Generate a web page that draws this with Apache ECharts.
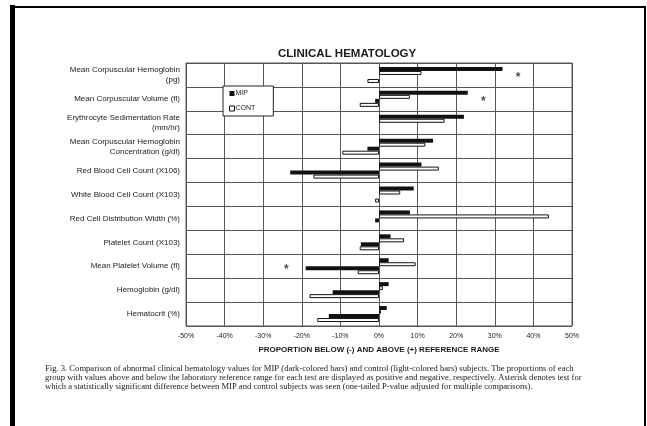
<!DOCTYPE html>
<html>
<head>
<meta charset="utf-8">
<script src="https://cdn.jsdelivr.net/npm/echarts@6/dist/echarts.min.js"></script>
<style>
  html, body { margin: 0; padding: 0; background: #fff; }
  #chart { width: 647px; height: 426px; }
</style>
</head>
<body>
<div id="chart"></div>
<script>
// Hematology tests, listed top to bottom
const categories = [
  'Mean Corpuscular Hemoglobin\n(pg)',
  'Mean Corpuscular Volume (fl)',
  'Erythrocyte Sedimentation Rate\n(mm/hr)',
  'Mean Corpuscular Hemoglobin\nConcentration (g/dl)',
  'Red Blood Cell Count (X106)',
  'White Blood Cell Count (X103)',
  'Red Cell Distribution Width (%)',
  'Platelet Count (X103)',
  'Mean Platelet Volume (fl)',
  'Hemoglobin (g/dl)',
  'Hematocrit (%)'
];

// Proportion (%) above (+) and below (-) the reference range
const mipAbove  = [32, 23, 22, 14, 11, 9, 8, 3, 2.5, 2.5, 2];
const contAbove = [11, 8, 17, 12, 15.5, 5.5, 44, 6.5, 9.5, 1, 0.5];
const mipBelow  = [0, -1, 0, -3, -23, 0, -1, -4.7, -19, -12, -13];
const contBelow = [-3, -5, 0, -9.5, -17, -1, 0, -5, -5.5, -18, -16];

// Tests with a significant MIP vs control difference (x position, category index)
const asteriskX   = [36, 27, -24];
const asteriskCat = [0, 1, 8];

const xTicks = { min: -50, max: 50, step: 10 };

const captionLines = [
  'Fig. 3. Comparison of abnormal clinical hematology values for MIP (dark-colored bars) and control (light-colored bars) subjects. The proportions of each',
  'group with values above and below the laboratory reference range for each test are displayed as positive and negative, respectively. Asterisk denotes test for',
  'which a statistically significant difference between MIP and control subjects was seen (one-tailed P-value adjusted for multiple comparisons).'
];

const ink = '#1a1a1a';
const gridColor = '#555';
const sans = 'Liberation Sans, Arial, sans-serif';
const serif = 'Liberation Serif, Times New Roman, serif';

const darkBar = { color: '#111' };
const lightBar = { color: '#fff', borderColor: '#111', borderWidth: 1 };

// a zero proportion means no bar at all for that test
const orEmpty = v => (v === 0 ? '-' : v);

function barSeries(name, data, style) {
  return {
    name: name,
    type: 'bar',
    data: data.map(orEmpty),
    barWidth: 4,
    barGap: '0%',
    itemStyle: style,
    emphasis: { disabled: true },
    animation: false
  };
}

const chart = echarts.init(document.getElementById('chart'), null, { renderer: 'canvas' });

chart.setOption({
  backgroundColor: '#fff',
  animation: false,
  title: {
    text: 'CLINICAL HEMATOLOGY',
    left: 273,
    top: 43,
    textStyle: { fontFamily: sans, fontSize: 11.5, fontWeight: 'bold', color: ink }
  },
  legend: {
    data: [
      { name: 'MIP', icon: 'rect', itemStyle: { color: '#111' } },
      { name: 'CONT', icon: 'rect', itemStyle: { color: '#fff', borderColor: '#111', borderWidth: 1 } }
    ],
    orient: 'vertical',
    left: 223,
    top: 86,
    width: 52,
    padding: [4, 18, 4, 6],
    itemGap: 8,
    itemWidth: 5,
    itemHeight: 5,
    backgroundColor: '#fff',
    borderColor: '#222',
    borderWidth: 1,
    textStyle: { fontFamily: sans, fontSize: 7, color: ink, padding: [0, 0, 0, -4] },
    selectedMode: false
  },
  grid: {
    left: 186,
    right: 75,
    top: 63,
    bottom: 100,
    show: true,
    borderColor: gridColor,
    borderWidth: 1
  },
  xAxis: {
    type: 'value',
    min: xTicks.min,
    max: xTicks.max,
    interval: xTicks.step,
    axisLine: { show: false },
    axisTick: { show: false },
    splitLine: { show: true, lineStyle: { color: gridColor, width: 1 } },
    axisLabel: {
      formatter: '{value}%',
      fontFamily: sans,
      fontSize: 7,
      color: ink,
      margin: 7
    },
    name: 'PROPORTION BELOW (-) AND ABOVE (+) REFERENCE RANGE',
    nameLocation: 'middle',
    nameGap: 20,
    nameTextStyle: { fontFamily: sans, fontSize: 8, fontWeight: 'bold', color: ink }
  },
  yAxis: {
    type: 'category',
    data: categories,
    inverse: true,
    axisLine: { show: false },
    axisTick: { show: false },
    splitLine: { show: true, lineStyle: { color: gridColor, width: 1 } },
    axisLabel: {
      fontFamily: sans,
      fontSize: 8,
      lineHeight: 10,
      color: ink,
      margin: 6,
      align: 'right'
    }
  },
  series: [
    barSeries('MIP', mipAbove, darkBar),
    barSeries('CONT', contAbove, lightBar),
    barSeries('MIP', mipBelow, darkBar),
    barSeries('CONT', contBelow, lightBar),
    {
      type: 'scatter',
      data: asteriskX.map((x, i) => [x, categories[asteriskCat[i]]]),
      symbolSize: 1,
      itemStyle: { color: 'rgba(0,0,0,0)' },
      label: {
        show: true,
        position: 'inside',
        formatter: '*',
        fontFamily: sans,
        fontSize: 12,
        fontWeight: 'bold',
        color: ink,
        offset: [0, 3]
      },
      emphasis: { disabled: true },
      silent: true
    }
  ],
  graphic: [
    // page frame
    { type: 'rect', shape: { x: 10, y: 5, width: 5, height: 430 }, style: { fill: '#000' } },
    { type: 'rect', shape: { x: 10, y: 6, width: 636, height: 2 }, style: { fill: '#000' } },
    { type: 'rect', shape: { x: 644, y: 6, width: 2, height: 430 }, style: { fill: '#000' } },
    // figure caption
    ...captionLines.map((line, i) => ({
      type: 'text',
      left: 45,
      top: 364 + i * 9,
      style: {
        text: line,
        fontFamily: serif,
        fontSize: 8.6,
        fill: ink
      }
    }))
  ]
});
</script>
</body>
</html>
